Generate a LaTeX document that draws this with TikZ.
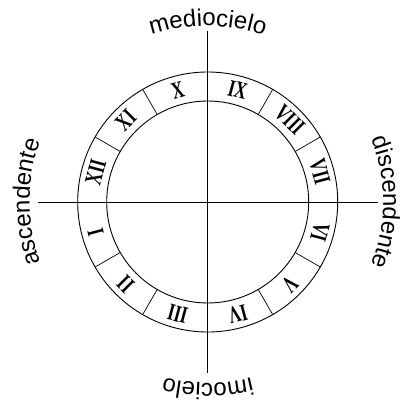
\documentclass[tikz,border=0pt]{standalone}
\usepackage{fontspec}
\setmainfont{Liberation Serif}
\setsansfont{Liberation Sans}
\usetikzlibrary{decorations.text}

\tikzset{
  housenum/.style={font=\bfseries\fontsize{24}{24}\selectfont, inner sep=0pt},
  anglelabel/.style={decorate, decoration={text along path, text align=center,
    text={|\sffamily\fontsize{24}{24}\selectfont|#1}}}
}

\begin{document}
\begin{tikzpicture}[x=1pt, y=1pt, line width=0.7pt]
  \useasboundingbox (-207.7,-199) rectangle (191.3,202);
  \coordinate (c) at (0,0);

  % Axes
  \coordinate (asc) at (-170,0);
  \coordinate (disc) at (170,0);
  \coordinate (mc) at (0,171);
  \coordinate (ic) at (0,-171);
  \draw (asc) -- (disc);
  \draw (ic) -- (mc);

  % Ring of houses
  \draw[line width=0.9pt] (c) circle[radius=130pt];
  \draw[line width=0.9pt] (c) circle[radius=101pt];
  \foreach \a in {30,60,120,150,210,240,300,330}
    \draw (\a:101) -- (\a:130);

  % House numerals, tops facing out
  \foreach \hname [count=\i from 0] in {VII,VIII,IX,X,XI,XII,I,II,III,IV,V,VI}
    \node[housenum, rotate={30*\i-75}] (house-\hname) at ({15+30*\i}:116)
      {\scalebox{0.7}[1]{\hname}};

  % Angle names
  \path[anglelabel=mediocielo] (180:176) arc[start angle=180, end angle=0, radius=176pt];
  \path[anglelabel=ascendente] (270:178) arc[start angle=270, end angle=90, radius=178pt];
  \path[anglelabel=discendente] (90:175.5) arc[start angle=90, end angle=-90, radius=175.5pt];
  \path[anglelabel=imocielo] (0:181) arc[start angle=0, end angle=-180, radius=181pt];
\end{tikzpicture}
\end{document}
